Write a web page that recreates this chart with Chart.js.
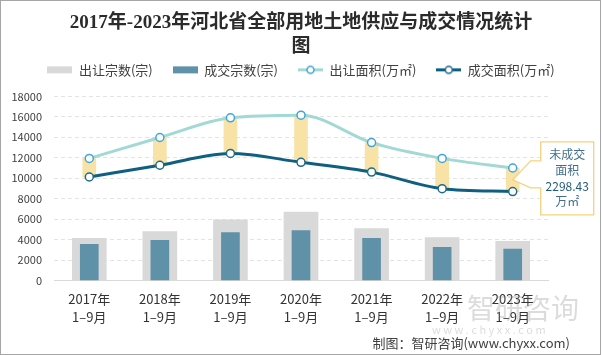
<!DOCTYPE html>
<html>
<head>
<meta charset="utf-8">
<script src="https://cdn.jsdelivr.net/npm/chart.js@4/dist/chart.umd.min.js"></script>
<style>
  html, body { margin: 0; padding: 0; background: #ffffff; }
  #wrap { width: 602px; height: 355px; position: relative; }
</style>
</head>
<body>
<div id="wrap"><canvas id="c" width="602" height="355"></canvas></div>
<script>
// ---------- data ----------
const yearLabels = ['2017年', '2018年', '2019年', '2020年', '2021年', '2022年', '2023年'];
const periodLabel = '1–9月';
const supplyCount = [4120, 4790, 5940, 6700, 5080, 4210, 3830];   // 出让宗数(宗)
const dealCount   = [3540, 3930, 4690, 4890, 4120, 3260, 3070];   // 成交宗数(宗)
const supplyArea  = [11940, 13980, 15900, 16160, 13480, 11940, 11000]; // 出让面积(万㎡)
const dealArea    = [10120, 11270, 12420, 11560, 10600, 8980, 8700];   // 成交面积(万㎡)
const yMax = 18000;
const yStep = 2000;
const seriesNames = ['出让宗数(宗)', '成交宗数(宗)', '出让面积(万㎡)', '成交面积(万㎡)'];
const titleLines = ['2017年-2023年河北省全部用地土地供应与成交情况统计', '图'];
const calloutLines = ['未成交', '面积', '2298.43', '万㎡'];
const sourceText = '制图：智研咨询(www.chyxx.com)';

// ---------- styles ----------
const C_GREY = '#D9D9D9';
const C_BAR = '#5F91A8';
const C_LIGHT = '#A3D9D4';
const C_LIGHT_PT = '#3BA7DE';
const C_DARK = '#0E5F80';
const C_DARK_PT = '#1D6B8C';
const C_GAP = '#F8E2A6';
const BASE_FONT = "'Microsoft YaHei','Noto Sans CJK SC',sans-serif";

const labels = yearLabels.map(y => [y, periodLabel]);
const gapData = supplyArea.map((v, i) => [dealArea[i], v]);

function legendImg(kind, color, ptColor) {
  const cv = document.createElement('canvas');
  cv.width = 25; cv.height = 11;
  const g = cv.getContext('2d');
  if (kind === 'bar') {
    g.fillStyle = color;
    g.fillRect(0, 2, 25, 7);
  } else {
    g.strokeStyle = color; g.lineWidth = 3;
    g.beginPath(); g.moveTo(0, 5.5); g.lineTo(25, 5.5); g.stroke();
    g.beginPath(); g.arc(12.5, 5.5, 3.5, 0, Math.PI * 2);
    g.fillStyle = '#fff'; g.fill();
    g.strokeStyle = ptColor; g.lineWidth = 1.5; g.stroke();
  }
  return cv;
}
const legendImgs = [
  legendImg('bar', C_GREY),
  legendImg('bar', C_BAR),
  legendImg('line', C_LIGHT, C_LIGHT_PT),
  legendImg('line', C_DARK, C_DARK_PT)
];

const extras = {
  id: 'extras',
  afterDatasetsDraw(chart) {
    const ctx = chart.ctx;
    const xs = chart.scales.x, ys = chart.scales.y;
    const last = supplyArea.length - 1;
    const x = xs.getPixelForValue(last);
    const yT = ys.getPixelForValue(supplyArea[last]);
    const yB = ys.getPixelForValue(dealArea[last]);
    const mid = (yT + yB) / 2;
    const bl = x + 28, br = x + 81, bt = mid - 38, bb = mid + 35;
    ctx.save();
    ctx.beginPath();
    ctx.moveTo(bl, bt);
    ctx.lineTo(br, bt);
    ctx.lineTo(br, bb);
    ctx.lineTo(bl, bb);
    ctx.lineTo(bl, mid + 8);
    ctx.lineTo(x + 18, mid + 8);
    ctx.lineTo(x, mid);
    ctx.lineTo(x + 18, mid - 19);
    ctx.lineTo(bl, mid - 19);
    ctx.closePath();
    ctx.fillStyle = '#ffffff';
    ctx.fill();
    ctx.strokeStyle = '#F7D27E';
    ctx.lineWidth = 1.3;
    ctx.stroke();
    ctx.font = "12px " + BASE_FONT;
    ctx.textAlign = 'center';
    ctx.textBaseline = 'middle';
    const cx = (bl + br) / 2;
    calloutLines.forEach((t, i) => {
      ctx.fillStyle = i === 2 ? '#1E5A78' : '#41708F';
      ctx.fillText(t, cx, mid - 25 + i * 15.7);
    });
    ctx.restore();
  },
  afterDraw(chart) {
    const ctx = chart.ctx;
    ctx.save();
    // watermark
    ctx.fillStyle = 'rgba(140,140,140,0.30)';
    ctx.font = "28px " + BASE_FONT;
    ctx.textAlign = 'left';
    ctx.textBaseline = 'middle';
    ctx.fillText('智研咨询', 467, 308);
    ctx.font = "11px " + BASE_FONT;
    ctx.fillText('w w w . c h y x x . c o m', 432, 330);
    // source
    ctx.fillStyle = '#404040';
    ctx.font = "13px " + BASE_FONT;
    ctx.textAlign = 'right';
    ctx.fillText(sourceText, 570, 343);
    // border
    ctx.strokeStyle = '#A6A6A6';
    ctx.lineWidth = 1;
    ctx.strokeRect(0.5, 0.5, 600, 354);
    ctx.restore();
  }
};

new Chart(document.getElementById('c'), {
  type: 'bar',
  data: {
    labels: labels,
    datasets: [
      { type: 'bar', label: seriesNames[0], data: supplyCount, backgroundColor: C_GREY,
        barThickness: 34, grouped: false, order: 5 },
      { type: 'bar', label: seriesNames[1], data: dealCount, backgroundColor: C_BAR,
        barThickness: 18, grouped: false, order: 4 },
      { type: 'line', label: seriesNames[2], data: supplyArea, borderColor: C_LIGHT, borderWidth: 3,
        pointRadius: 4, pointBackgroundColor: '#ffffff', pointBorderColor: C_LIGHT_PT, pointBorderWidth: 1.5,
        cubicInterpolationMode: 'monotone', order: 2 },
      { type: 'line', label: seriesNames[3], data: dealArea, borderColor: C_DARK, borderWidth: 3,
        pointRadius: 4, pointBackgroundColor: '#ffffff', pointBorderColor: C_DARK_PT, pointBorderWidth: 1.5,
        cubicInterpolationMode: 'monotone', order: 1 },
      { type: 'bar', label: 'gap', data: gapData, backgroundColor: C_GAP,
        barThickness: 13, grouped: false, order: 3 }
    ]
  },
  options: {
    responsive: false,
    animation: false,
    devicePixelRatio: 1,
    layout: { padding: { left: 12, right: 12, top: 0, bottom: 20 } },
    plugins: {
      tooltip: { enabled: false },
      title: {
        display: true,
        text: titleLines,
        color: '#2B2B2B',
        font: { family: "'Liberation Serif','Noto Sans CJK SC',serif", size: 19, weight: 'bold', lineHeight: 1.22 },
        padding: { top: 12, bottom: -15 }
      },
      legend: {
        display: true,
        position: 'top',
        labels: {
          usePointStyle: true,
          pointStyleWidth: 25,
          padding: 20,
          color: '#404040',
          font: { family: BASE_FONT, size: 13 },
          generateLabels: (chart) => seriesNames.map((t, i) => ({
            text: t, datasetIndex: i, pointStyle: legendImgs[i], hidden: false,
            fillStyle: 'transparent', strokeStyle: 'transparent', lineWidth: 0, fontColor: '#404040'
          }))
        }
      }
    },
    scales: {
      x: {
        position: 'bottom',
        offset: true,
        grid: { display: false, drawTicks: false },
        border: { display: true, color: '#D9D9D9', width: 1 },
        ticks: { color: '#333333', padding: 9, maxRotation: 0, autoSkip: false,
                 font: { family: BASE_FONT, size: 13, lineHeight: 1.4 } }
      },
      xTop: {
        type: 'category',
        position: 'top',
        display: true,
        grid: { display: false, drawTicks: false },
        border: { display: false },
        ticks: { display: false },
        afterFit(s) { s.height = 10; }
      },
      y: {
        position: 'left',
        min: 0, max: yMax,
        ticks: { stepSize: yStep, color: '#404040', padding: 12,
                 font: { family: BASE_FONT, size: 11 },
                 callback: v => String(v) },
        grid: { drawTicks: false, color: (c) => c.tick && c.tick.value === 0 ? 'rgba(0,0,0,0)' : '#E3E3E3',
                lineWidth: 1 },
        border: { display: false, dash: [4, 3] },
        afterFit(s) { s.width = 42; }
      },
      yR: {
        type: 'linear',
        position: 'right',
        display: true,
        grid: { display: false, drawTicks: false },
        border: { display: false },
        ticks: { display: false },
        afterFit(s) { s.width = 42; }
      }
    }
  },
  plugins: [extras]
});
</script>
</body>
</html>
